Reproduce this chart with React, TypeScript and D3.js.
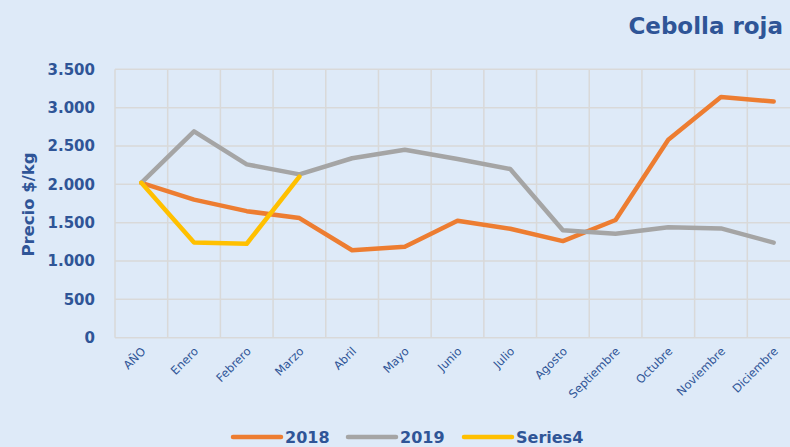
import React from 'react';
import * as d3 from 'd3';

// Chart data (precio $/kg)
const months = [
  'AÑO', 'Enero', 'Febrero', 'Marzo', 'Abril', 'Mayo', 'Junio',
  'Julio', 'Agosto', 'Septiembre', 'Octubre', 'Noviembre', 'Diciembre',
];
const values2018 = [2020, 1800, 1650, 1560, 1140, 1185, 1525, 1420, 1260, 1535, 2580, 3140, 3080];
const values2019 = [2020, 2690, 2260, 2130, 2340, 2450, 2330, 2200, 1400, 1355, 1440, 1425, 1240];
const valuesSeries4: (number | null)[] = [2020, 1240, 1225, 2100, null, null, null, null, null, null, null, null, null];
const yTicks = [0, 500, 1000, 1500, 2000, 2500, 3000, 3500];

const W = 790;
const H = 447;
const BG = '#DEEAF8';
const TEXT = '#2F5597';
const GRID = '#D9D9D9';
const FONT = '"DejaVu Sans", sans-serif';

const series = [
  {name: '2018', color: '#ED7D31', values: values2018 as (number | null)[]},
  {name: '2019', color: '#A5A5A5', values: values2019 as (number | null)[]},
  {name: 'Series4', color: '#FFC000', values: valuesSeries4},
];

const plot = {left: 115, right: 800, top: 69.3, bottom: 337.7};

export default function App() {
  const x = d3
    .scaleBand<string>()
    .domain(months)
    .range([plot.left, plot.right])
    .paddingInner(0)
    .paddingOuter(0);
  const y = d3.scaleLinear().domain([0, 3500]).range([plot.bottom, plot.top]);
  const cx = (m: string) => (x(m) || 0) + x.bandwidth() / 2;

  const line = d3
    .line<number | null>()
    .defined((d) => d != null)
    .x((_, i) => cx(months[i]))
    .y((d) => y(d as number))
    .curve(d3.curveLinear);

  // legend layout
  const legend = [
    {lx: 233, tx: 285},
    {lx: 348, tx: 400},
    {lx: 464, tx: 516},
  ];

  return (
    <svg
      width={W}
      height={H}
      style={{position: 'absolute', left: 0, top: 0, background: BG}}
    >
      <rect width={W} height={H} fill={BG} />

      {/* title */}
      <text
        x={783}
        y={34}
        textAnchor="end"
        fill={TEXT}
        fontFamily={FONT}
        fontWeight="bold"
        fontSize={23}
      >
        Cebolla roja
      </text>

      {/* grid */}
      <g stroke={GRID} strokeWidth={1.5}>
        {yTicks.map((t) => (
          <line key={t} x1={plot.left} x2={plot.right} y1={y(t)} y2={y(t)} />
        ))}
        {months.map((m) => (
          <line key={m} x1={x(m)} x2={x(m)} y1={plot.top} y2={plot.bottom} />
        ))}
        <line x1={plot.right} x2={plot.right} y1={plot.top} y2={plot.bottom} />
      </g>

      {/* y tick labels */}
      {yTicks.map((t) => (
        <text
          key={t}
          x={95}
          y={y(t)}
          dy="0.36em"
          textAnchor="end"
          fill={TEXT}
          fontFamily={FONT}
          fontWeight="bold"
          fontSize={15}
        >
          {d3.format(',')(t).replace(/,/g, '.')}
        </text>
      ))}

      {/* y axis title */}
      <text
        transform={`translate(34,204.5) rotate(-90)`}
        textAnchor="middle"
        fill={TEXT}
        fontFamily={FONT}
        fontWeight="bold"
        fontSize={16.5}
      >
        Precio $/kg
      </text>

      {/* x labels */}
      {months.map((m) => (
        <text
          key={m}
          transform={`translate(${cx(m) + 5},${352}) rotate(-45)`}
          textAnchor="end"
          fill={TEXT}
          fontFamily={FONT}
          fontSize={11.5}
        >
          {m}
        </text>
      ))}

      {/* lines */}
      {series.map((s) => (
        <path
          key={s.name}
          d={line(s.values) || ''}
          fill="none"
          stroke={s.color}
          strokeWidth={4.5}
          strokeLinejoin="round"
          strokeLinecap="round"
        />
      ))}

      {/* legend */}
      {series.map((s, i) => (
        <g key={s.name}>
          <line
            x1={legend[i].lx}
            x2={legend[i].lx + 48}
            y1={437}
            y2={437}
            stroke={s.color}
            strokeWidth={4.5}
            strokeLinecap="round"
          />
          <text
            x={legend[i].tx}
            y={443}
            fill={TEXT}
            fontFamily={FONT}
            fontWeight="bold"
            fontSize={16}
          >
            {s.name}
          </text>
        </g>
      ))}
    </svg>
  );
}
